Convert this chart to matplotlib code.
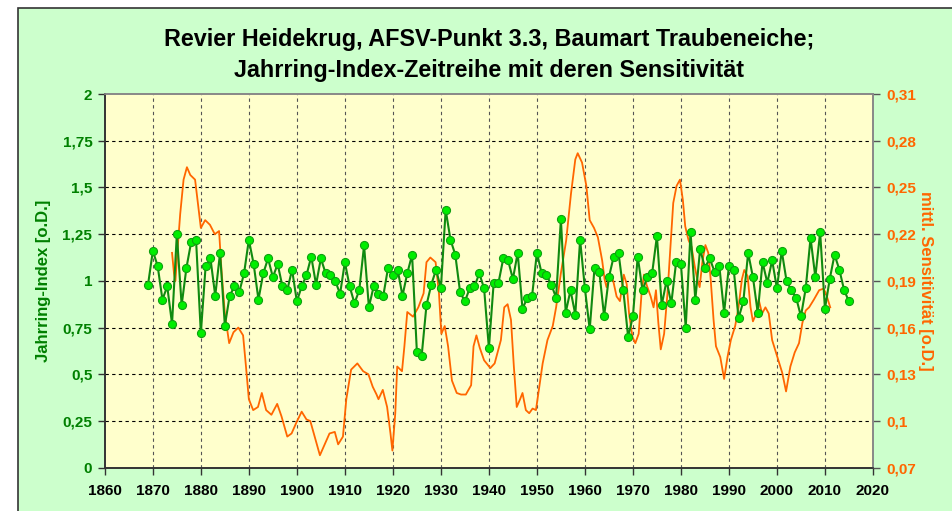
import numpy as np
import matplotlib.pyplot as plt
from matplotlib.patches import Rectangle

# Jahrring-Index (annual values)
years = np.arange(1869, 2016)
index_vals = [
    0.98, 1.16, 1.08, 0.90, 0.97, 0.77, 1.25, 0.87, 1.07, 1.21,  # 1869-1878
    1.22, 0.72, 1.08, 1.12, 0.92, 1.15, 0.76, 0.92, 0.97, 0.94,  # 1879-1888
    1.04, 1.22, 1.09, 0.90, 1.04, 1.12, 1.02, 1.09, 0.97, 0.95,  # 1889-1898
    1.06, 0.89, 0.97, 1.03, 1.13, 0.98, 1.12, 1.04, 1.03, 1.00,  # 1899-1908
    0.93, 1.10, 0.97, 0.88, 0.95, 1.19, 0.86, 0.97, 0.93, 0.92,  # 1909-1918
    1.07, 1.03, 1.06, 0.92, 1.04, 1.14, 0.62, 0.60, 0.87, 0.98,  # 1919-1928
    1.06, 0.96, 1.38, 1.22, 1.14, 0.94, 0.89, 0.96, 0.97, 1.04,  # 1929-1938
    0.96, 0.64, 0.99, 0.99, 1.12, 1.11, 1.01, 1.15, 0.85, 0.91,  # 1939-1948
    0.92, 1.15, 1.04, 1.03, 0.98, 0.91, 1.33, 0.83, 0.95, 0.82,  # 1949-1958
    1.22, 0.96, 0.74, 1.07, 1.05, 0.81, 1.02, 1.13, 1.15, 0.95,  # 1959-1968
    0.70, 0.81, 1.13, 0.95, 1.02, 1.04, 1.24, 0.87, 1.00, 0.88,  # 1969-1978
    1.10, 1.09, 0.75, 1.26, 0.90, 1.17, 1.07, 1.12, 1.05, 1.08,  # 1979-1988
    0.83, 1.08, 1.06, 0.80, 0.89, 1.15, 1.02, 0.83, 1.10, 0.99,  # 1989-1998
    1.11, 0.96, 1.16, 1.00, 0.95, 0.91, 0.81, 0.96, 1.23, 1.02,  # 1999-2008
    1.26, 0.85, 1.01, 1.14, 1.06, 0.95, 0.89,                    # 2009-2015
]

# mittlere Sensitivitaet (smoothed curve)
sens_years = [
    1874.0, 1874.4, 1874.7, 1875.1, 1875.7, 1876.4, 1877.1, 1877.8, 1878.8, 1879.3,
    1880.0, 1880.9, 1881.9, 1882.9, 1883.8, 1884.3, 1885.0, 1885.9, 1886.8, 1887.8,
    1888.8, 1889.4, 1890.0, 1890.9, 1891.9, 1892.7, 1893.6, 1894.7, 1895.9, 1896.8,
    1898.0, 1898.9, 1899.9, 1901.0, 1902.0, 1902.8, 1903.7, 1904.8, 1905.8, 1906.8,
    1907.9, 1908.6, 1909.6, 1910.3, 1911.3, 1912.6, 1913.8, 1914.9, 1915.8, 1916.6,
    1917.0, 1917.9, 1918.8, 1919.5, 1919.9, 1920.5, 1920.9, 1921.9, 1922.4, 1923.0,
    1924.2, 1925.3, 1926.4, 1927.0, 1927.8, 1928.9, 1929.6, 1930.1, 1930.8, 1931.5,
    1932.3, 1933.3, 1934.2, 1935.2, 1936.3, 1936.8, 1937.4, 1938.1, 1939.0, 1940.3,
    1941.2, 1942.5, 1943.2, 1943.9, 1944.6, 1945.2, 1945.8, 1946.5, 1947.0, 1947.7,
    1948.4, 1949.1, 1949.8, 1950.5, 1951.2, 1952.2, 1953.3, 1954.0, 1955.0, 1956.1,
    1957.1, 1958.0, 1958.5, 1959.4, 1960.3, 1961.0, 1961.9, 1962.7, 1963.6, 1964.1,
    1964.5, 1965.2, 1965.9, 1966.6, 1967.3, 1968.1, 1968.7, 1969.2, 1969.9, 1970.5,
    1971.2, 1971.8, 1972.3, 1972.9, 1973.7, 1974.3, 1974.8, 1975.3, 1975.8, 1976.5,
    1977.2, 1977.9, 1978.4, 1979.1, 1979.8, 1980.4, 1980.9, 1981.6, 1982.2, 1982.9,
    1983.4, 1983.9, 1984.5, 1985.1, 1985.7, 1986.2, 1986.8, 1987.3, 1988.2, 1989.0,
    1989.7, 1990.4, 1991.3, 1992.0, 1992.7, 1993.2, 1993.9, 1994.5, 1995.0, 1995.7,
    1996.2, 1996.9, 1997.6, 1998.3, 1999.0, 2000.1, 2001.1, 2001.9, 2002.8, 2003.7,
    2004.6, 2005.3, 2006.0, 2006.7, 2007.7, 2008.8, 2009.7, 2010.2, 2011.1,
]
sens_vals = [
    0.208, 0.195, 0.190, 0.208, 0.233, 0.255, 0.263, 0.258, 0.255, 0.242,
    0.224, 0.229, 0.226, 0.220, 0.222, 0.197, 0.169, 0.150, 0.157, 0.160,
    0.155, 0.135, 0.114, 0.107, 0.109, 0.118, 0.107, 0.104, 0.111, 0.103,
    0.090, 0.092, 0.099, 0.106, 0.101, 0.100, 0.090, 0.078, 0.085, 0.092,
    0.093, 0.085, 0.090, 0.114, 0.133, 0.137, 0.132, 0.130, 0.122, 0.117,
    0.114, 0.120, 0.109, 0.092, 0.081, 0.105, 0.135, 0.132, 0.148, 0.170,
    0.167, 0.173, 0.182, 0.202, 0.205, 0.202, 0.182, 0.156, 0.161, 0.148,
    0.126, 0.118, 0.117, 0.117, 0.123, 0.148, 0.155, 0.147, 0.139, 0.134,
    0.137, 0.152, 0.173, 0.175, 0.165, 0.135, 0.109, 0.114, 0.118, 0.107,
    0.105, 0.108, 0.107, 0.122, 0.137, 0.152, 0.161, 0.173, 0.195, 0.216,
    0.246, 0.268, 0.272, 0.266, 0.251, 0.229, 0.224, 0.218, 0.203, 0.191,
    0.186, 0.194, 0.190, 0.180, 0.177, 0.194, 0.188, 0.169, 0.154, 0.150,
    0.156, 0.182, 0.194, 0.187, 0.180, 0.173, 0.184, 0.163, 0.146, 0.156,
    0.182, 0.216, 0.240, 0.251, 0.255, 0.242, 0.225, 0.216, 0.212, 0.199,
    0.191, 0.186, 0.203, 0.213, 0.208, 0.191, 0.165, 0.148, 0.141, 0.127,
    0.141, 0.152, 0.161, 0.173, 0.191, 0.197, 0.193, 0.173, 0.164, 0.169,
    0.178, 0.169, 0.173, 0.169, 0.152, 0.141, 0.131, 0.119, 0.135, 0.144,
    0.150, 0.163, 0.171, 0.173, 0.178, 0.184, 0.185, 0.182, 0.173,
]

left_ticks = np.arange(0, 2.01, 0.25)
right_ticks = np.arange(0.07, 0.311, 0.03)
x_ticks = np.arange(1860, 2021, 10)

title1 = "Revier Heidekrug, AFSV-Punkt 3.3, Baumart Traubeneiche;"
title2 = "Jahrring-Index-Zeitreihe mit deren Sensitivität"

def de_fmt(v):
    s = ("%.2f" % v).rstrip("0").rstrip(".")
    return s.replace(".", ",")

plt.rcParams['font.family'] = ['Liberation Sans', 'DejaVu Sans']
plt.rcParams['font.weight'] = 'bold'

bg = "#ccffcc"
plotbg = "#ffffcc"
green_txt = "#008000"
orange = "#ff6600"

fig = plt.figure(figsize=(9.53, 5.11), dpi=100, facecolor="white")
# green chart area with dark frame
fig.patches.append(Rectangle((18 / 953, -0.01), 1.0, 1 - 8 / 511 + 0.01,
                             transform=fig.transFigure, facecolor=bg,
                             edgecolor="#333333", linewidth=1.2, zorder=-5))

ax = fig.add_axes([0.110, 0.0847, 0.806, 0.7313])
ax2 = ax.twinx()
# left-scale axes drawn over the right-scale one
ax.set_zorder(ax2.get_zorder() + 1)
ax.patch.set_visible(False)
ax2.patch.set_visible(True)
ax2.patch.set_facecolor(plotbg)

# grid
for y in right_ticks[1:-1]:
    ax2.axhline(y, color="black", lw=0.8, ls=(0, (3, 3)), zorder=0.5)
for x in x_ticks[1:-1]:
    ax2.axvline(x, color="#555555", lw=0.8, ls=(0, (3, 3)), zorder=0.5)

ax2.plot(sens_years, sens_vals, color=orange, lw=1.3, zorder=2)
ax.plot(years, index_vals, color="#108a10", lw=1.5, marker="o", markersize=5.8,
        markerfacecolor="#00ee00", markeredgecolor="#10a010", markeredgewidth=0.8,
        zorder=3)

ax.set_xlim(1860, 2020)
ax.set_ylim(0, 2)
ax2.set_ylim(0.07, 0.31)

ax.set_xticks(x_ticks)
ax.set_xticklabels([str(x) for x in x_ticks], fontsize=11, fontweight="bold", color="black")
ax.set_yticks(left_ticks)
ax.set_yticklabels([de_fmt(v) for v in left_ticks], fontsize=11, fontweight="bold", color=green_txt)
ax2.set_yticks(right_ticks)
ax2.set_yticklabels([de_fmt(v) for v in right_ticks], fontsize=11, fontweight="bold", color=orange)

ax.tick_params(axis="both", direction="out", length=5, width=1, color="#333333")
ax.tick_params(axis="x", pad=7)
ax.tick_params(axis="y", pad=4)
ax2.tick_params(axis="y", direction="out", length=5, width=1, color="#555555", pad=5)

for a in (ax, ax2):
    a.spines["left"].set_color("#333333")
    a.spines["bottom"].set_color("#333333")
    a.spines["top"].set_color("#888888")
    a.spines["right"].set_color("#888888")
    for s in a.spines.values():
        s.set_linewidth(1.2)

ax.set_ylabel("Jahrring-Index [o.D.]", fontsize=12, fontweight="bold", color=green_txt, labelpad=8)
ax2.set_ylabel("mittl. Sensitivität [o.D.]", fontsize=12, fontweight="bold", color=orange,
               rotation=-90, labelpad=12)

fig.text(489 / 953, 1 - 39 / 511, title1, ha="center", va="center", fontsize=16.8, fontweight="bold")
fig.text(489 / 953, 1 - 70 / 511, title2, ha="center", va="center", fontsize=16.8, fontweight="bold")

fig.savefig("out.png", dpi=100, facecolor=fig.get_facecolor())
